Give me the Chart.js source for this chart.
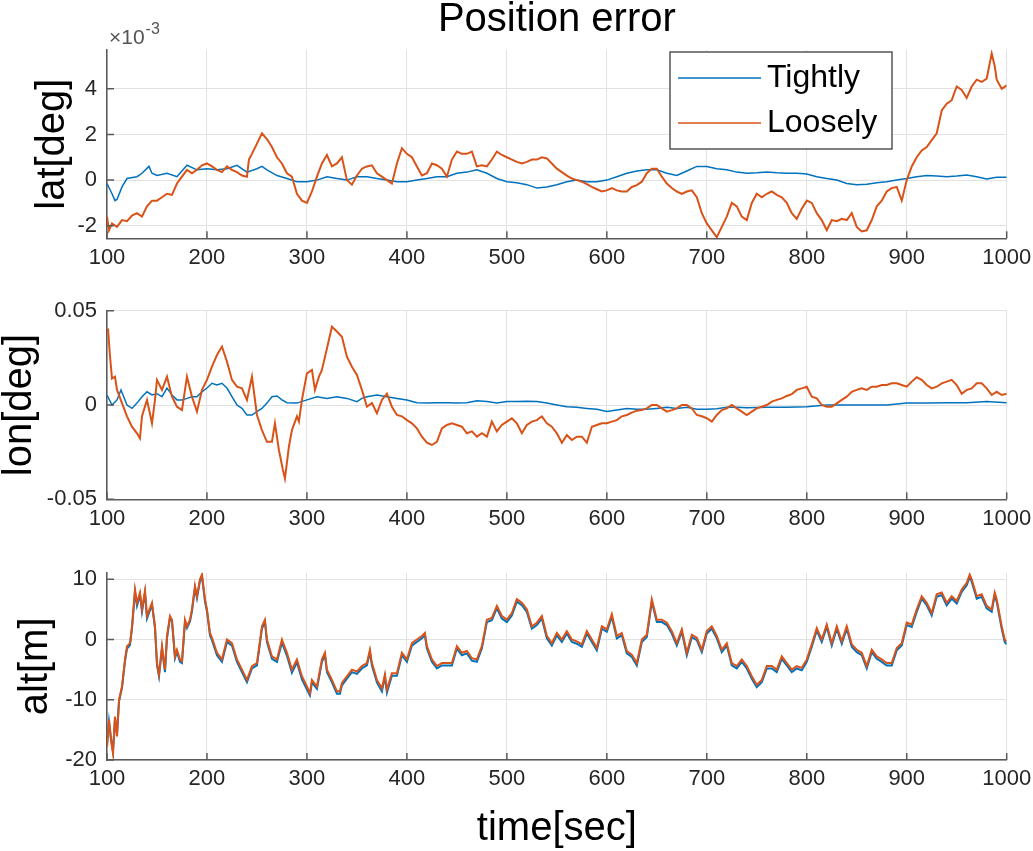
<!DOCTYPE html>
<html>
<head>
<meta charset="utf-8">
<title>Position error</title>
<script src="https://cdn.jsdelivr.net/npm/chart.js@4.4.1/dist/chart.umd.min.js"></script>
<style>
  body { margin: 0; background: #fff; }
  #wrap { position: relative; width: 1033px; height: 851px; overflow: hidden; }
  canvas { position: absolute; left: 0; }
</style>
</head>
<body>
<div id="wrap">
  <canvas id="latChart" width="1033" height="270" style="top:0px"></canvas>
  <canvas id="lonChart" width="1033" height="250" style="top:280px"></canvas>
  <canvas id="altChart" width="1033" height="311" style="top:540px"></canvas>
</div>
<script>
// ---- data: [time sec, value] ----
const seriesNames = ['Tightly', 'Loosely'];
const xTicks = [100, 200, 300, 400, 500, 600, 700, 800, 900, 1000];
const latTicks = [-2, 0, 2, 4];          // x 10^-3
const lonTicks = [-0.05, 0, 0.05];
const altTicks = [-20, -10, 0, 10];

// lat error, units of 1e-3 deg
const latTight = [[100,-0.15],[105,-0.6],[108,-0.9],[110,-0.85],[115,-0.3],[120,0.07],[130,0.15],[135,0.3],[142,0.6],[145,0.3],[150,0.2],[160,0.3],[170,0.15],[180,0.65],[190,0.45],[200,0.5],[210,0.45],[220,0.5],[230,0.65],[240,0.35],[250,0.5],[255,0.6],[260,0.45],[270,0.2],[280,0.07],[290,-0.07],[300,-0.07],[310,0],[320,0.15],[330,0.07],[340,0],[350,0.15],[360,0.15],[370,0.07],[380,0],[390,-0.07],[400,-0.07],[410,0],[420,0.07],[430,0.15],[440,0.15],[450,0.3],[460,0.35],[470,0.45],[480,0.3],[490,0.07],[500,-0.07],[510,-0.12],[520,-0.2],[530,-0.35],[540,-0.3],[550,-0.2],[560,-0.07],[570,0],[580,-0.07],[590,-0.07],[600,0],[610,0.15],[620,0.3],[630,0.4],[640,0.45],[650,0.45],[660,0.3],[670,0.2],[680,0.4],[690,0.6],[700,0.6],[710,0.5],[720,0.45],[730,0.35],[740,0.3],[750,0.32],[760,0.35],[770,0.32],[780,0.3],[790,0.3],[800,0.27],[810,0.15],[820,0.07],[830,0],[840,-0.15],[850,-0.2],[860,-0.18],[870,-0.12],[880,-0.07],[890,0],[900,0.07],[910,0.15],[920,0.2],[930,0.18],[940,0.15],[950,0.18],[960,0.22],[970,0.15],[980,0.05],[990,0.12],[1000,0.12]];
const latLoose = [[100,-1.6],[102,-2.2],[105,-1.9],[110,-2.05],[115,-1.75],[120,-1.8],[125,-1.55],[130,-1.45],[135,-1.6],[140,-1.15],[145,-0.9],[150,-0.9],[155,-0.75],[160,-0.6],[165,-0.65],[170,-0.15],[175,0.15],[180,0.45],[185,0.3],[190,0.45],[195,0.65],[200,0.73],[205,0.6],[210,0.45],[215,0.35],[220,0.6],[225,0.45],[230,0.35],[235,0.2],[240,0.15],[242,0.9],[245,1.15],[250,1.6],[255,2.05],[260,1.8],[265,1.45],[270,1.0],[275,0.73],[280,0.3],[285,0.15],[290,-0.6],[295,-0.9],[300,-1.0],[305,-0.5],[310,0.15],[315,0.73],[320,1.1],[325,0.6],[330,0.73],[335,1.0],[340,0],[345,-0.2],[350,0.2],[355,0.5],[360,0.6],[365,0.65],[370,0.3],[375,0.15],[380,0],[385,-0.15],[390,0.73],[395,1.4],[400,1.15],[405,1.0],[410,0.6],[415,0.2],[420,0.3],[425,0.73],[430,0.65],[435,0.5],[440,0.15],[445,0.9],[450,1.25],[455,1.15],[460,1.15],[465,1.25],[470,0.6],[475,0.65],[480,0.6],[485,0.9],[490,1.25],[495,1.1],[500,1.0],[505,0.9],[510,0.8],[515,0.73],[520,0.8],[525,0.9],[530,0.9],[535,1.0],[540,0.95],[545,0.73],[550,0.5],[555,0.35],[560,0.2],[565,0.07],[570,0],[575,-0.07],[580,-0.18],[585,-0.3],[590,-0.4],[595,-0.5],[600,-0.45],[605,-0.35],[610,-0.45],[615,-0.5],[620,-0.5],[625,-0.3],[630,-0.22],[635,-0.07],[640,0.3],[645,0.5],[650,0.5],[655,0.15],[660,-0.15],[665,-0.35],[670,-0.5],[675,-0.6],[680,-0.5],[685,-0.45],[690,-0.75],[695,-1.45],[700,-1.9],[705,-2.2],[710,-2.5],[715,-2.05],[720,-1.6],[725,-1.0],[730,-1.15],[735,-1.6],[740,-1.75],[745,-1.0],[750,-0.6],[755,-0.75],[760,-0.6],[765,-0.5],[770,-0.65],[775,-0.75],[780,-1.0],[785,-1.45],[790,-1.7],[795,-1.25],[800,-0.9],[805,-1.0],[810,-1.45],[815,-1.75],[820,-2.2],[825,-1.75],[830,-1.8],[835,-1.7],[840,-1.75],[845,-1.45],[850,-2.05],[855,-2.25],[860,-2.2],[865,-1.75],[870,-1.15],[875,-0.9],[880,-0.5],[885,-0.35],[890,-0.3],[895,-0.9],[900,0],[905,0.6],[910,1.0],[915,1.3],[920,1.45],[925,1.75],[930,2.05],[935,3.05],[940,3.35],[945,3.5],[950,4.1],[955,3.95],[960,3.6],[965,4.1],[970,4.4],[975,4.3],[980,4.45],[985,5.55],[988,5.0],[990,4.4],[995,4.0],[1000,4.15]];

// lon error, deg
const lonTight = [[100,0.0053],[105,0],[110,0.0027],[114,0.008],[120,0],[125,-0.0018],[130,0.001],[135,0.0044],[140,0.007],[145,0.0053],[150,0.006],[155,0.0044],[160,0.009],[165,0.0053],[170,0.0027],[175,0.0027],[180,0.0035],[185,0.0044],[190,0.0044],[195,0.007],[200,0.009],[205,0.0115],[210,0.0106],[215,0.0115],[220,0.009],[225,0.0044],[230,0],[235,-0.0018],[240,-0.0053],[245,-0.0053],[250,-0.0035],[255,-0.0018],[260,0.001],[265,0.0044],[270,0.0048],[275,0.0027],[280,0.0012],[290,0.001],[300,0.0027],[310,0.0044],[320,0.0035],[330,0.0044],[340,0.0035],[350,0.0018],[355,0.0035],[360,0.0044],[370,0.0053],[380,0.0044],[390,0.0035],[400,0.0027],[410,0.0012],[420,0.001],[430,0.0012],[440,0.0012],[450,0.001],[460,0.0012],[470,0.0023],[480,0.0018],[490,0.001],[500,0.0018],[510,0.0018],[520,0.002],[530,0.0018],[540,0.001],[550,0],[560,-0.0009],[570,-0.0012],[580,-0.0018],[590,-0.0023],[600,-0.0035],[610,-0.0027],[620,-0.0018],[630,-0.0023],[640,-0.0023],[650,-0.0018],[660,-0.0012],[670,-0.0018],[680,-0.0012],[690,-0.0023],[700,-0.0023],[710,-0.002],[720,-0.0012],[730,-0.0012],[740,-0.0014],[760,-0.0012],[780,-0.0012],[800,-0.0009],[820,0],[840,0],[860,0],[880,0],[900,0.001],[920,0.001],[940,0.0012],[960,0.0012],[980,0.0018],[1000,0.0012]];
const lonLoose = [[100,0.04],[101,0.0405],[103,0.026],[105,0.014],[108,0.015],[110,0.008],[115,0.001],[120,-0.006],[125,-0.0115],[130,-0.015],[133,-0.0177],[135,-0.006],[140,0.0027],[145,-0.0097],[148,0.0027],[150,0.0133],[155,0.008],[160,0.015],[165,0.0044],[170,-0.0009],[175,-0.0027],[180,0.015],[185,0.0044],[190,-0.0035],[195,0.008],[200,0.0133],[205,0.0203],[210,0.0265],[215,0.031],[220,0.023],[225,0.0133],[230,0.0097],[235,0.0088],[240,0.0027],[245,0.015],[250,-0.0053],[255,-0.0133],[260,-0.0195],[265,-0.0195],[268,-0.0097],[272,-0.024],[276,-0.0345],[278,-0.039],[282,-0.022],[285,-0.0133],[290,-0.006],[292,-0.0088],[295,0.0027],[300,0.0168],[305,0.0186],[308,0.008],[312,0.015],[315,0.0186],[320,0.03],[325,0.0415],[330,0.039],[335,0.0362],[340,0.0256],[345,0.0203],[350,0.0159],[355,0.008],[360,-0.0009],[365,0.001],[370,-0.0044],[375,0.0027],[380,0.006],[385,-0.0009],[390,-0.0053],[395,-0.006],[400,-0.008],[405,-0.0097],[410,-0.0124],[415,-0.0168],[420,-0.02],[425,-0.0212],[430,-0.0195],[435,-0.0124],[440,-0.0106],[445,-0.0097],[450,-0.0106],[455,-0.0115],[460,-0.015],[465,-0.014],[470,-0.0168],[475,-0.015],[480,-0.0168],[485,-0.0088],[490,-0.014],[495,-0.0106],[500,-0.0088],[505,-0.007],[510,-0.0097],[515,-0.015],[520,-0.0106],[525,-0.0088],[530,-0.008],[535,-0.006],[540,-0.0097],[545,-0.0115],[550,-0.015],[555,-0.02],[560,-0.016],[565,-0.0186],[570,-0.0168],[575,-0.0168],[580,-0.02],[585,-0.0115],[590,-0.0106],[595,-0.0097],[600,-0.0097],[605,-0.0088],[610,-0.008],[615,-0.006],[620,-0.0053],[625,-0.004],[630,-0.003],[635,-0.0027],[640,-0.0018],[645,0],[650,0],[655,-0.0018],[660,-0.0035],[665,-0.0027],[670,-0.0018],[675,0],[680,0],[685,-0.0018],[690,-0.0053],[695,-0.006],[700,-0.007],[705,-0.0088],[710,-0.0053],[715,-0.0027],[720,-0.0018],[725,0],[730,-0.0018],[735,-0.0035],[740,-0.0053],[745,-0.0035],[750,-0.0018],[755,-0.0009],[760,0],[765,0.0018],[770,0.0027],[775,0.0035],[780,0.0048],[785,0.0058],[790,0.008],[795,0.0088],[800,0.0097],[805,0.0044],[810,0.0035],[815,0],[820,-0.0009],[825,-0.0009],[830,0.0009],[835,0.0027],[840,0.0044],[845,0.007],[850,0.008],[855,0.0088],[860,0.008],[865,0.0097],[870,0.0097],[875,0.0106],[880,0.0106],[885,0.0115],[890,0.0115],[895,0.0106],[900,0.0097],[905,0.0124],[910,0.0147],[915,0.0133],[920,0.0106],[925,0.0088],[930,0.0097],[935,0.0115],[940,0.0124],[945,0.0133],[950,0.0106],[955,0.006],[960,0.008],[965,0.0088],[970,0.0115],[975,0.0115],[980,0.0088],[985,0.0053],[990,0.007],[995,0.0053],[1000,0.006]];

// alt error, m
const altTight = [[100,-17.5],[102,-13.6],[104,-16.4],[106,-18.6],[108,-13.1],[110,-15.8],[112,-10.3],[115,-8.0],[118,-3.6],[120,-1.5],[123,-0.9],[125,1.8],[128,7.9],[130,5.6],[133,7.4],[135,4.6],[138,7.8],[140,3.5],[145,5.8],[148,1.9],[150,-4.2],[152,-6.1],[155,-1.5],[158,-5.4],[160,0.2],[163,3.6],[165,3.0],[168,-3.1],[170,-2.0],[173,-3.7],[175,-3.9],[178,2.9],[180,1.9],[183,3.0],[185,4.7],[188,8.6],[190,6.9],[193,9.7],[195,10.5],[198,6.3],[200,4.7],[203,0.7],[205,-0.1],[210,-2.6],[215,-3.7],[220,-0.4],[225,-1.0],[230,-3.7],[235,-5.4],[240,-7.1],[245,-4.8],[250,-4.3],[255,1.8],[258,2.9],[260,-0.4],[265,-3.2],[270,-3.7],[275,-0.5],[280,-2.7],[285,-5.5],[290,-3.8],[295,-6.6],[300,-8.3],[303,-9.3],[305,-7.1],[310,-8.2],[315,-3.7],[318,-2.6],[320,-5.4],[325,-7.1],[330,-9.0],[333,-9.0],[335,-7.6],[340,-6.5],[345,-5.4],[350,-5.7],[355,-4.8],[360,-4.3],[363,-2.1],[365,-4.3],[370,-7.1],[375,-8.6],[378,-6.2],[380,-8.8],[385,-6.0],[390,-6.0],[395,-2.6],[400,-3.7],[405,-1.0],[410,-0.4],[415,0.2],[418,0.7],[420,-1.5],[425,-3.7],[430,-4.8],[435,-4.3],[440,-4.3],[445,-4.3],[450,-1.5],[455,-2.6],[460,-2.3],[465,-3.5],[470,-3.7],[475,-1.5],[480,2.9],[485,3.2],[490,5.2],[495,3.5],[500,2.9],[505,4.0],[510,6.3],[515,5.7],[520,4.6],[525,1.8],[530,2.4],[535,3.5],[540,0.2],[545,-1.0],[550,0.7],[555,-0.4],[560,1.0],[565,-0.4],[570,-0.7],[575,-1.2],[580,1.0],[585,-0.4],[590,-1.8],[595,1.8],[600,1.3],[605,3.8],[610,0.2],[615,0.7],[620,-2.3],[625,-2.9],[630,-4.3],[635,-0.4],[640,0.4],[645,6.3],[650,2.9],[655,2.9],[660,2.4],[665,1.0],[670,-1.0],[675,1.3],[680,-2.6],[685,0.4],[690,-0.1],[695,-2.1],[700,1.0],[705,1.8],[710,0.2],[715,-2.1],[720,-1.0],[725,-4.3],[730,-4.8],[735,-3.7],[740,-4.8],[745,-6.5],[750,-7.9],[755,-7.1],[760,-4.8],[765,-4.8],[770,-5.4],[775,-3.2],[780,-4.3],[785,-5.4],[790,-4.8],[795,-5.1],[800,-3.7],[805,-1.2],[810,1.5],[815,-0.4],[820,2.1],[825,-1.0],[830,1.8],[835,-0.7],[840,1.8],[845,-1.2],[850,-2.1],[855,-2.6],[860,-4.8],[865,-2.1],[870,-3.2],[875,-3.7],[880,-4.3],[885,-4.3],[890,-1.8],[895,-1.0],[900,2.4],[905,2.1],[910,4.6],[915,6.8],[920,5.7],[925,4.0],[930,7.1],[935,7.4],[940,5.7],[945,6.8],[950,6.0],[955,7.9],[960,9.0],[963,10.4],[965,9.6],[970,6.8],[975,7.1],[980,5.2],[985,4.6],[988,7.4],[990,6.3],[995,1.8],[998,-0.4],[1000,-0.8]];
const altLoose = [[100,-17.8],[102,-13.3],[104,-16.7],[106,-18.9],[108,-12.8],[110,-16.1],[112,-10],[115,-7.8],[118,-3.3],[120,-1.1],[123,-0.6],[125,2.2],[128,8.3],[130,6.1],[133,7.8],[135,5.0],[138,8.1],[140,3.9],[145,6.1],[148,2.2],[150,-3.9],[152,-5.8],[155,-1.1],[158,-5],[160,0.6],[163,3.9],[165,3.3],[168,-2.8],[170,-1.7],[173,-3.3],[175,-3.6],[178,3.3],[180,2.2],[183,3.3],[185,5],[188,8.9],[190,7.2],[193,10],[195,10.8],[198,6.7],[200,5],[203,1.1],[205,0.3],[210,-2.2],[215,-3.3],[220,0],[225,-0.6],[230,-3.3],[235,-5],[240,-6.7],[245,-4.4],[250,-3.9],[255,2.2],[258,3.3],[260,0],[265,-2.8],[270,-3.3],[275,0],[280,-2.2],[285,-5],[290,-3.3],[295,-6.1],[300,-7.8],[303,-8.9],[305,-6.7],[310,-7.8],[315,-3.3],[318,-2.2],[320,-5],[325,-6.7],[330,-8.6],[333,-8.6],[335,-7.2],[340,-6.1],[345,-5],[350,-5.3],[355,-4.4],[360,-3.9],[363,-1.7],[365,-3.9],[370,-6.7],[375,-8.1],[378,-5.8],[380,-8.3],[385,-5.6],[390,-5.6],[395,-2.2],[400,-3.3],[405,-0.6],[410,0],[415,0.6],[418,1.1],[420,-1.1],[425,-3.3],[430,-4.4],[435,-3.9],[440,-3.9],[445,-3.9],[450,-1.1],[455,-2.2],[460,-1.9],[465,-3.1],[470,-3.3],[475,-1.1],[480,3.3],[485,3.6],[490,5.6],[495,3.9],[500,3.3],[505,4.4],[510,6.7],[515,6.1],[520,5],[525,2.2],[530,2.8],[535,3.9],[540,0.6],[545,-0.6],[550,1.1],[555,0],[560,1.4],[565,0],[570,-0.3],[575,-0.8],[580,1.4],[585,0],[590,-1.4],[595,2.2],[600,1.7],[605,4.2],[610,0.6],[615,1.1],[620,-1.9],[625,-2.5],[630,-3.9],[635,0],[640,0.8],[645,6.7],[650,3.3],[655,3.3],[660,2.8],[665,1.4],[670,-0.6],[675,1.7],[680,-2.2],[685,0.8],[690,0.3],[695,-1.7],[700,1.4],[705,2.2],[710,0.6],[715,-1.7],[720,-0.6],[725,-3.9],[730,-4.4],[735,-3.3],[740,-4.4],[745,-6.1],[750,-7.5],[755,-6.7],[760,-4.4],[765,-4.4],[770,-5],[775,-2.8],[780,-3.9],[785,-5],[790,-4.4],[795,-4.7],[800,-3.3],[805,-0.8],[810,1.9],[815,0],[820,2.5],[825,-0.6],[830,2.2],[835,-0.3],[840,2.2],[845,-0.8],[850,-1.7],[855,-2.2],[860,-4.4],[865,-1.7],[870,-2.8],[875,-3.3],[880,-3.9],[885,-3.9],[890,-1.4],[895,-0.6],[900,2.8],[905,2.5],[910,5],[915,7.2],[920,6.1],[925,4.4],[930,7.5],[935,7.8],[940,6.1],[945,7.2],[950,6.4],[955,8.3],[960,9.4],[963,10.8],[965,10],[970,7.2],[975,7.5],[980,5.6],[985,5],[988,7.8],[990,6.7],[995,2.2],[998,0],[1000,-0.3]];

// ---- styling ----
const FONT = '"Liberation Sans", Arial, Helvetica, sans-serif';
const BLUE = '#0072BD';
const ORANGE = '#D95319';
const PLOT_LEFT = 107;
const AXIS_COLOR = '#5a5a5a';
const GRID_COLOR = '#e2e2e2';
const TEXT_COLOR = '#262626';

const pts = arr => arr.map(p => ({ x: p[0], y: p[1] }));

// MATLAB style ticks pointing into the axes
const inwardTicks = {
  id: 'inwardTicks',
  afterDraw(chart) {
    const { ctx, chartArea: a, scales } = chart;
    ctx.save();
    ctx.strokeStyle = AXIS_COLOR;
    ctx.lineWidth = 1.5;
    ctx.beginPath();
    scales.x.ticks.forEach(t => {
      const px = scales.x.getPixelForValue(t.value);
      ctx.moveTo(px, a.bottom);
      ctx.lineTo(px, a.bottom - 7);
    });
    scales.y.ticks.forEach(t => {
      const py = scales.y.getPixelForValue(t.value);
      ctx.moveTo(a.left, py);
      ctx.lineTo(a.left + 7, py);
    });
    ctx.stroke();
    ctx.restore();
  }
};

// legend box inside the first axes + the x10^-3 exponent label
const latExtras = {
  id: 'latExtras',
  afterDraw(chart) {
    const { ctx, chartArea: a } = chart;
    ctx.save();
    // exponent
    ctx.fillStyle = '#555';
    ctx.textBaseline = 'alphabetic';
    ctx.textAlign = 'left';
    ctx.font = '21px ' + FONT;
    ctx.fillText('\u00d710', a.left + 2, 44);
    const w = ctx.measureText('\u00d710').width;
    ctx.font = '16px ' + FONT;
    ctx.fillText('-3', a.left + 2 + w + 1, 34);

    // legend
    const bx = 670, by = 52, bw = 222, bh = 97;
    ctx.fillStyle = '#fff';
    ctx.fillRect(bx, by, bw, bh);
    ctx.strokeStyle = '#555';
    ctx.lineWidth = 1.5;
    ctx.strokeRect(bx, by, bw, bh);
    const rows = [78, 123];
    chart.data.datasets.forEach((ds, i) => {
      ctx.strokeStyle = ds.borderColor;
      ctx.lineWidth = 1.5;
      ctx.beginPath();
      ctx.moveTo(bx + 8, rows[i]);
      ctx.lineTo(bx + 91, rows[i]);
      ctx.stroke();
      ctx.fillStyle = '#000';
      ctx.font = '32px ' + FONT;
      ctx.textBaseline = 'middle';
      ctx.fillText(ds.label, bx + 97, rows[i]);
    });
    ctx.restore();
  }
};

function makePanel(id, tight, loose, cfg) {
  const plugins = [inwardTicks];
  if (cfg.extra) plugins.push(cfg.extra);
  return new Chart(document.getElementById(id), {
    type: 'line',
    data: {
      datasets: [
        { label: seriesNames[0], data: pts(tight), borderColor: BLUE, borderWidth: cfg.lw[0], pointRadius: 0, order: 1 },
        { label: seriesNames[1], data: pts(loose), borderColor: ORANGE, borderWidth: cfg.lw[1], pointRadius: 0, order: 0 }
      ]
    },
    options: {
      responsive: false,
      animation: false,
      layout: { padding: { top: cfg.padTop, left: 0, right: 26.3, bottom: 0 } },
      plugins: {
        legend: { display: false },
        tooltip: { enabled: false },
        title: cfg.title ? {
          display: true, text: cfg.title, fullSize: false, color: '#000',
          font: { family: FONT, size: 40, weight: 'normal', lineHeight: 1 },
          padding: { top: 0, bottom: 10 }
        } : { display: false }
      },
      scales: {
        x: {
          type: 'linear', min: 100, max: 1000,
          afterBuildTicks: s => { s.ticks = xTicks.map(v => ({ value: v })); },
          afterFit: s => { s.height = cfg.xHeight; s.paddingLeft = 0; s.paddingRight = 0; },
          grid: { color: GRID_COLOR, drawTicks: false },
          border: { color: AXIS_COLOR, width: 1.5 },
          ticks: { color: TEXT_COLOR, padding: 6, maxRotation: 0, font: { family: FONT, size: 22 }, callback: v => String(v) },
          title: cfg.xTitle ? {
            display: true, text: cfg.xTitle, color: '#000',
            font: { family: FONT, size: 40, lineHeight: 1 },
            padding: { top: 0, bottom: 2 }
          } : { display: false }
        },
        y: {
          min: cfg.yMin, max: cfg.yMax,
          afterBuildTicks: s => { s.ticks = cfg.yTicks.map(v => ({ value: v })); },
          afterFit: s => { s.width = PLOT_LEFT; s.paddingTop = 0; s.paddingBottom = 0; },
          grid: { color: GRID_COLOR, drawTicks: false },
          border: { color: AXIS_COLOR, width: 1.5 },
          ticks: { color: TEXT_COLOR, padding: 10, font: { family: FONT, size: 22 }, callback: v => String(v) },
          title: {
            display: true, text: cfg.yTitle, color: '#000',
            font: { family: FONT, size: 40, lineHeight: 1 },
            padding: { top: cfg.yTitleShift, bottom: 0 }
          }
        }
      }
    },
    plugins: plugins
  });
}

makePanel('latChart', latTight, latLoose, {
  title: 'Position error', padTop: 0, xHeight: 31.7, lw: [1.5, 2],
  yMin: -2.55, yMax: 5.7, yTicks: latTicks, yTitle: 'lat[deg]', yTitleShift: 33,
  extra: latExtras
});
makePanel('lonChart', lonTight, lonLoose, {
  padTop: 30.7, xHeight: 30.7, lw: [1.5, 2],
  yMin: -0.05, yMax: 0.05, yTicks: lonTicks, yTitle: 'lon[deg]', yTitleShift: 0
});
makePanel('altChart', altTight, altLoose, {
  padTop: 32.7, xHeight: 91, xTitle: 'time[sec]', lw: [2, 2],
  yMin: -20, yMax: 11.1, yTicks: altTicks, yTitle: 'alt[m]', yTitleShift: 16
});
</script>
</body>
</html>
